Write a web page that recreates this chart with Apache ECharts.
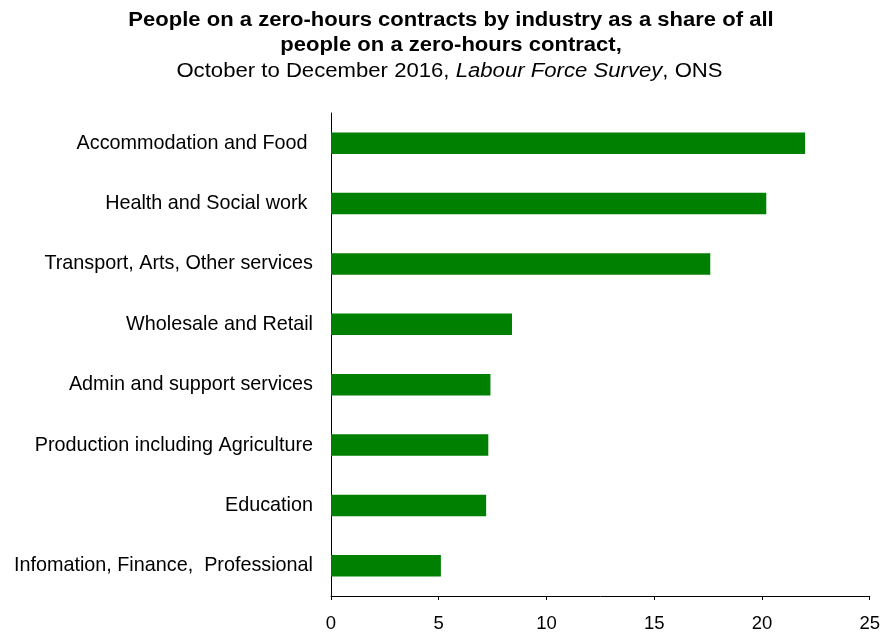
<!DOCTYPE html>
<html>
<head>
<meta charset="utf-8">
<script src="https://cdn.jsdelivr.net/npm/echarts@6/dist/echarts.min.js"></script>
<style>
  html, body { margin: 0; padding: 0; background: #fff; }
  #chart { width: 883px; height: 633px; }
</style>
</head>
<body>
<div id="chart"></div>
<script>
// Industries, top to bottom
const industries = [
  'Accommodation and Food ',
  'Health and Social work ',
  'Transport, Arts, Other services',
  'Wholesale and Retail',
  'Admin and support services',
  'Production including Agriculture',
  'Education',
  'Infomation, Finance,  Professional'
];
// Share of all people on a zero-hours contract (%)
const shares = [22.0, 20.2, 17.6, 8.4, 7.4, 7.3, 7.2, 5.1];
const xTicks = { min: 0, max: 25, interval: 5 };

const titleLines = [
  'People on a zero-hours contracts by industry as a share of all',
  'people on a zero-hours contract,'
];

const font = '"Liberation Sans", Arial, sans-serif';
const titleCenter = 451;
const stretch = 1.13;

const chart = echarts.init(document.getElementById('chart'), null, { renderer: 'canvas' });
chart.setOption({
  animation: false,
  backgroundColor: '#ffffff',
  graphic: [
    {
      type: 'text', x: titleCenter, y: 21, scaleX: stretch,
      style: {
        text: titleLines[0], fill: '#000', textAlign: 'center', textVerticalAlign: 'middle',
        font: 'bold 19.5px ' + font
      }
    },
    {
      type: 'text', x: titleCenter, y: 46, scaleX: stretch,
      style: {
        text: titleLines[1], fill: '#000', textAlign: 'center', textVerticalAlign: 'middle',
        font: 'bold 19.5px ' + font
      }
    },
    {
      type: 'text', x: 449.5, y: 72, scaleX: 1.135,
      style: {
        text: '{n|October to December 2016, }{i|Labour Force Survey}{n|, ONS}',
        textAlign: 'center', textVerticalAlign: 'middle',
        rich: {
          n: { fontFamily: font, fontSize: 19.5, fontWeight: 'normal', fill: '#000' },
          i: { fontFamily: font, fontSize: 19.5, fontWeight: 'normal', fontStyle: 'italic', fill: '#000' }
        }
      }
    }
  ],
  grid: { left: 331, right: 13, top: 113, bottom: 30, containLabel: false },
  xAxis: {
    type: 'value',
    min: xTicks.min,
    max: xTicks.max,
    interval: xTicks.interval,
    splitLine: { show: false },
    axisLine: { show: true, lineStyle: { color: '#000', width: 1 } },
    axisTick: { show: true, length: 4, lineStyle: { color: '#000' } },
    axisLabel: { color: '#000', fontFamily: font, fontSize: 18.5, margin: 18 }
  },
  yAxis: {
    type: 'category',
    data: industries,
    inverse: true,
    axisLine: { show: true, lineStyle: { color: '#000', width: 1 } },
    axisTick: { show: false },
    axisLabel: { color: '#000', fontFamily: font, fontSize: 19.8, margin: 18 }
  },
  series: [{
    type: 'bar',
    data: shares,
    barWidth: 21.5,
    itemStyle: { color: '#008000' }
  }]
});
</script>
</body>
</html>
